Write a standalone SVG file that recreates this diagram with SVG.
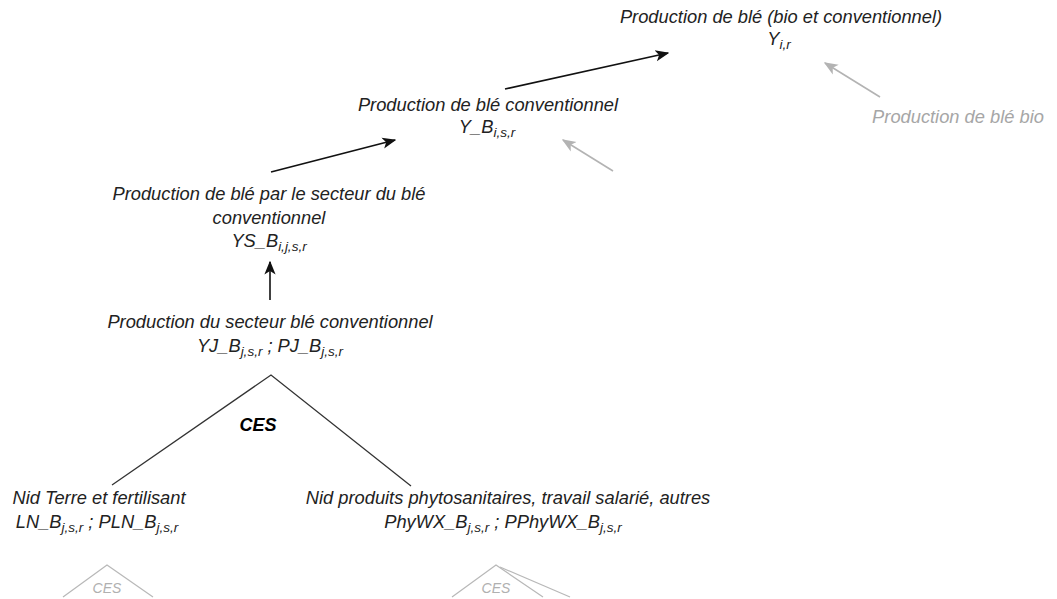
<svg xmlns="http://www.w3.org/2000/svg" width="1057" height="599" viewBox="0 0 1057 599">
<defs>
<style>
text{font-family:"Liberation Sans",Arial,sans-serif;font-style:italic;font-size:18.3px;fill:#222;text-anchor:middle}
.g{fill:#a6a6a6}
.sub{font-size:13.5px}
.ces{font-weight:bold;font-size:18px;fill:#000}
.cesg{font-size:14px;fill:#b0b0b0}
.blk{stroke:#111;stroke-width:1.6;fill:none}
.gry{stroke:#b3b3b3;stroke-width:1.6;fill:none}
.tri{stroke:#333;stroke-width:1.3;fill:none}
.trig{stroke:#b8b8b8;stroke-width:1.2;fill:none}
</style>
<marker id="ab" viewBox="0 0 10 10" refX="9" refY="5" markerWidth="14" markerHeight="14" orient="auto" markerUnits="userSpaceOnUse"><path d="M0,1 L10,5 L0,9 L2.5,5 Z" fill="#111"/></marker>
<marker id="ag" viewBox="0 0 10 10" refX="9" refY="5" markerWidth="14" markerHeight="14" orient="auto" markerUnits="userSpaceOnUse"><path d="M0,1 L10,5 L0,9 L2.5,5 Z" fill="#b3b3b3"/></marker>
</defs>
<g id="connectors">
<line class="blk" x1="505" y1="89" x2="668" y2="53" marker-end="url(#ab)"/>
<line class="gry" x1="880" y1="97" x2="825" y2="63" marker-end="url(#ag)"/>
<line class="blk" x1="271" y1="172" x2="395" y2="140" marker-end="url(#ab)"/>
<line class="gry" x1="613" y1="171" x2="563" y2="140" marker-end="url(#ag)"/>
<line class="blk" x1="270" y1="300" x2="270" y2="262" marker-end="url(#ab)"/>
<polyline class="tri" points="112,485 271,375 411,486"/>
<polyline class="trig" points="63,597 107,565 153,597"/>
<polyline class="trig" points="452,597 496,565 543,597"/>
<line class="trig" x1="500" y1="567" x2="570" y2="597"/>
</g>
<g id="n-total">
<text x="781" y="23">Production de blé (bio et conventionnel)</text>
<text x="779" y="45">Y<tspan class="sub" dy="4">i,r</tspan></text>
</g>
<g id="n-bio">
<text class="g" x="958" y="123">Production de blé bio</text>
</g>
<g id="n-conv">
<text x="488" y="111">Production de blé conventionnel</text>
<text x="487" y="133">Y_B<tspan class="sub" dy="4">i,s,r</tspan></text>
</g>
<g id="n-secteur">
<text x="269" y="200">Production de blé par le secteur du blé</text>
<text x="269" y="224">conventionnel</text>
<text x="269" y="247">YS_B<tspan class="sub" dy="4">i,j,s,r</tspan></text>
</g>
<g id="n-prod">
<text x="270" y="328">Production du secteur blé conventionnel</text>
<text x="270" y="352">YJ_B<tspan class="sub" dy="4">j,s,r</tspan><tspan dy="-4"> ; PJ_B</tspan><tspan class="sub" dy="4">j,s,r</tspan></text>
</g>
<g id="n-ces">
<text class="ces" x="258" y="431">CES</text>
</g>
<g id="n-terre">
<text x="99" y="504">Nid Terre et fertilisant</text>
<text x="97" y="528">LN_B<tspan class="sub" dy="4">j,s,r</tspan><tspan dy="-4"> ; PLN_B</tspan><tspan class="sub" dy="4">j,s,r</tspan></text>
<text class="cesg" x="107" y="593">CES</text>
</g>
<g id="n-phy">
<text x="508" y="504">Nid produits phytosanitaires, travail salarié, autres</text>
<text x="503" y="528">PhyWX_B<tspan class="sub" dy="4">j,s,r</tspan><tspan dy="-4"> ; PPhyWX_B</tspan><tspan class="sub" dy="4">j,s,r</tspan></text>
<text class="cesg" x="496" y="593">CES</text>
</g>
</svg>
